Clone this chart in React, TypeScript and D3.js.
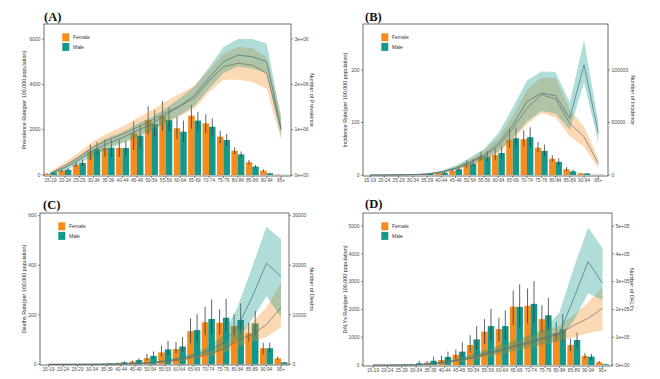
import React from "react";
import * as d3 from "d3";

const ageGroups = ["15-19","20-24","25-29","30-34","35-39","40-44","45-49","50-54","55-59","60-64","65-69","70-74","75-79","80-84","85-89","90-94","95+"];
const sexes = ["Female", "Male"];

// ---------- Panel A: Prevalence ----------
const prevRateF = [50, 190, 460, 1050, 1190, 1200, 1840, 2425, 2600, 2060, 2615, 2280, 1690, 1070, 560, 190, 20];
const prevRateFLo = [30, 130, 350, 660, 810, 800, 1100, 1800, 1950, 1600, 2050, 1850, 1400, 920, 470, 140, 15];
const prevRateFHi = [80, 260, 580, 1350, 1570, 1545, 2380, 3040, 3260, 2570, 3090, 2680, 1950, 1220, 660, 250, 25];
const prevRateM = [110, 230, 530, 1150, 1200, 1190, 1735, 2250, 2425, 1910, 2400, 2130, 1545, 910, 370, 75, 10];
const prevRateMLo = [70, 160, 400, 900, 800, 850, 1200, 1700, 1900, 1450, 1950, 1700, 1280, 780, 300, 55, 8];
const prevRateMHi = [160, 310, 680, 1470, 1570, 1500, 2220, 2870, 2990, 2400, 2790, 2500, 1810, 1040, 440, 95, 12];
const prevNumF = [40000, 210000, 400000, 625000, 775000, 900000, 1050000, 1200000, 1375000, 1525000, 1700000, 2075000, 2390000, 2465000, 2425000, 2240000, 1000000];
const prevNumFLo = [10000, 150000, 310000, 500000, 625000, 725000, 850000, 1000000, 1150000, 1300000, 1475000, 1825000, 2100000, 2100000, 2050000, 1900000, 775000];
const prevNumFHi = [75000, 280000, 500000, 750000, 925000, 1075000, 1250000, 1425000, 1625000, 1800000, 1975000, 2325000, 2675000, 2825000, 2800000, 2600000, 1325000];
const prevNumM = [25000, 160000, 340000, 550000, 700000, 825000, 975000, 1125000, 1325000, 1525000, 1760000, 2140000, 2500000, 2645000, 2610000, 2500000, 1025000];
const prevNumMLo = [5000, 100000, 250000, 425000, 575000, 700000, 825000, 975000, 1150000, 1325000, 1525000, 1900000, 2250000, 2400000, 2350000, 2250000, 850000];
const prevNumMHi = [45000, 210000, 425000, 650000, 825000, 950000, 1125000, 1275000, 1475000, 1700000, 1950000, 2375000, 2825000, 3000000, 3000000, 2900000, 1250000];
const prevLeftTicks = [0, 2000, 4000, 6000];
const prevRightTicks = [0, 1000000, 2000000, 3000000];
const prevRightLabels = ["0e+00", "1e+06", "2e+06", "3e+06"];

// ---------- Panel B: Incidence ----------
const incRateF = [0.1, 0.2, 0.3, 0.6, 1.5, 3.5, 8, 20, 35, 38, 67, 68, 52, 31, 11, 3, 0.5];
const incRateFLo = [0.05, 0.1, 0.2, 0.4, 1, 2.5, 6, 14, 28, 28, 52, 55, 44, 25, 8, 2, 0.3];
const incRateFHi = [0.15, 0.3, 0.45, 0.9, 2.2, 5, 12, 28, 44, 50, 88, 85, 63, 38, 15, 4, 0.8];
const incRateM = [0.1, 0.2, 0.4, 0.8, 2.5, 4.5, 11, 22, 35, 42, 70, 72, 46, 25, 7, 3, 0.5];
const incRateMLo = [0.05, 0.1, 0.25, 0.5, 1.8, 3.2, 8, 17, 27, 32, 54, 55, 36, 19, 5, 2, 0.3];
const incRateMHi = [0.15, 0.3, 0.6, 1.2, 3.5, 6.5, 15, 30, 46, 56, 90, 91, 58, 32, 10, 4, 0.8];
const incNumF = [50, 100, 200, 400, 900, 2500, 6000, 11500, 18000, 27500, 44000, 63500, 76500, 72500, 49000, 36500, 11000];
const incNumFLo = [25, 50, 100, 250, 600, 1750, 4500, 8500, 13500, 20500, 33000, 48000, 59000, 55000, 37000, 27000, 6500];
const incNumFHi = [100, 200, 350, 600, 1300, 3500, 8000, 15000, 23500, 36000, 56000, 81500, 92500, 92500, 62500, 46000, 16000];
const incNumM = [50, 100, 200, 450, 1000, 3000, 6500, 12500, 19000, 30000, 47500, 70000, 78000, 75500, 54000, 105000, 40000];
const incNumMLo = [25, 50, 100, 300, 700, 2250, 5000, 9500, 14500, 22500, 35000, 51000, 61000, 58500, 43000, 88000, 31000];
const incNumMHi = [100, 200, 350, 700, 1400, 4000, 9000, 16500, 25000, 40000, 64000, 90000, 98500, 98000, 69000, 128500, 50000];
const incLeftTicks = [0, 100, 200];
const incRightTicks = [0, 50000, 100000];
const incRightLabels = ["0", "50000", "100000"];

// ---------- Panel C: Deaths ----------
const dthRateF = [0, 0, 0.2, 0.5, 1.5, 4, 11, 25, 48, 62, 134, 170, 168, 155, 125, 65, 24];
const dthRateFLo = [0, 0, 0.1, 0.3, 0.8, 2, 7, 16, 32, 45, 85, 118, 120, 115, 90, 40, 18];
const dthRateFHi = [0, 0, 0.3, 0.8, 2.5, 7, 15, 42, 75, 90, 186, 232, 222, 202, 168, 87, 31];
const dthRateM = [0, 0, 0.3, 1, 3, 8, 17, 34, 60, 72, 138, 183, 188, 179, 165, 65, 8];
const dthRateMLo = [0, 0, 0.2, 0.6, 2, 4, 10, 22, 40, 50, 91, 125, 130, 120, 115, 45, 6];
const dthRateMHi = [0, 0, 0.5, 1.5, 5, 12, 24, 52, 95, 110, 203, 262, 264, 246, 216, 87, 10];
const dthNumF = [0, 5, 10, 20, 40, 75, 150, 250, 500, 850, 1350, 2000, 3000, 4750, 6000, 8000, 11500];
const dthNumFLo = [0, 2.5, 5, 15, 30, 55, 110, 190, 375, 650, 1050, 1550, 2300, 3500, 4500, 5500, 7500];
const dthNumFHi = [0, 7.5, 15, 30, 55, 100, 200, 325, 650, 1100, 1700, 2500, 3800, 6500, 8500, 11500, 16500];
const dthNumM = [0, 5, 15, 30, 60, 125, 200, 350, 650, 1100, 1750, 2750, 4250, 7500, 13500, 20400, 17750];
const dthNumMLo = [0, 2.5, 10, 20, 45, 90, 150, 250, 500, 800, 1300, 2000, 3000, 5000, 9000, 13750, 9500];
const dthNumMHi = [0, 7.5, 20, 40, 80, 160, 275, 450, 850, 1450, 2300, 3600, 5750, 11500, 19500, 27750, 25250];
const dthLeftTicks = [0, 200, 400, 600];
const dthRightTicks = [0, 10000, 20000, 30000];
const dthRightLabels = ["0", "10000", "20000", "30000"];

// ---------- Panel D: DALYs ----------
const dalyRateF = [0, 2, 10, 25, 85, 180, 370, 720, 1200, 1290, 2100, 2130, 1650, 1150, 720, 330, 100];
const dalyRateFLo = [0, 1, 5, 12, 40, 100, 220, 450, 750, 850, 1450, 1500, 1150, 850, 500, 230, 70];
const dalyRateFHi = [0, 3, 15, 40, 130, 330, 560, 1070, 1650, 1700, 2680, 2750, 2150, 1550, 950, 430, 140];
const dalyRateM = [0, 3, 15, 60, 150, 290, 480, 920, 1400, 1400, 2090, 2200, 1790, 1280, 900, 300, 30];
const dalyRateMLo = [0, 1, 6, 20, 80, 160, 300, 560, 860, 900, 1350, 1500, 1250, 850, 600, 200, 20];
const dalyRateMHi = [0, 5, 25, 150, 300, 480, 820, 1400, 2020, 1970, 2900, 3020, 2420, 1830, 1170, 400, 45];
const dalyNumF = [0, 0, 200, 800, 3000, 8000, 16000, 26000, 40000, 53000, 67000, 80000, 95000, 112000, 143000, 168000, 204000];
const dalyNumFLo = [0, 0, 100, 500, 2000, 5500, 11500, 19000, 29000, 39000, 50000, 60000, 72000, 87000, 100000, 115000, 125000];
const dalyNumFHi = [0, 0, 300, 1100, 4200, 11000, 21500, 34500, 52000, 69000, 87000, 104000, 123000, 142000, 180000, 225000, 280000];
const dalyNumM = [0, 0, 300, 1200, 4000, 10000, 19000, 30000, 44000, 57000, 71000, 85000, 100000, 115000, 240000, 371700, 293700];
const dalyNumMLo = [0, 0, 200, 800, 2800, 7200, 14000, 22000, 32000, 42000, 53000, 64000, 76000, 88000, 160000, 258000, 234000];
const dalyNumMHi = [0, 0, 400, 1600, 5500, 13500, 25000, 40000, 58000, 75000, 92000, 110000, 130000, 190000, 350000, 495000, 420000];
const dalyLeftTicks = [0, 1000, 2000, 3000, 4000, 5000];
const dalyRightTicks = [0, 100000, 200000, 300000, 400000, 500000];
const dalyRightLabels = ["0e+00", "1e+05", "2e+05", "3e+05", "4e+05", "5e+05"];

// ---------- styles ----------
const ORANGE = "#F68B1E";
const TEAL = "#13998A";
const LINE_F = "#7d6a5c";
const LINE_M = "#3a7489";
const SANS = "'Liberation Sans', Arial, sans-serif";
const SERIF = "'Liberation Serif', 'Times New Roman', serif";

type Series = { rate: number[]; lo: number[]; hi: number[]; num: number[]; numLo: number[]; numHi: number[] };

type PanelSpec = {
  label: string;
  leftTitle: string;
  rightTitle: string;
  box: { x0: number; x1: number; y0: number; y1: number };
  xRange: [number, number];
  leftDomain: [number, number];
  factor: number;
  leftTicks: number[];
  rightTicks: number[];
  rightLabels: string[];
  titleX: number;
  titleY: number;
  leftTitleX: number;
  rightTitleX: number;
  female: Series;
  male: Series;
};

const panels: PanelSpec[] = [
  {
    label: "(A)", leftTitle: "Prevalence Rate(per 100,000 population)", rightTitle: "Number of Prevalence",
    box: { x0: 44, x1: 291, y0: 24, y1: 176 }, xRange: [50.5, 281.1], leftDomain: [-44, 6662], factor: 500,
    leftTicks: prevLeftTicks, rightTicks: prevRightTicks, rightLabels: prevRightLabels,
    titleX: 44, titleY: 21, leftTitleX: 24, rightTitleX: 312,
    female: { rate: prevRateF, lo: prevRateFLo, hi: prevRateFHi, num: prevNumF, numLo: prevNumFLo, numHi: prevNumFHi },
    male: { rate: prevRateM, lo: prevRateMLo, hi: prevRateMHi, num: prevNumM, numLo: prevNumMLo, numHi: prevNumMHi },
  },
  {
    label: "(B)", leftTitle: "Incidence Rate(per 100,000 population)", rightTitle: "Number of Incidence",
    box: { x0: 363, x1: 608, y0: 24, y1: 176 }, xRange: [370, 598.3], leftDomain: [-1.9, 287.6], factor: 500,
    leftTicks: incLeftTicks, rightTicks: incRightTicks, rightLabels: incRightLabels,
    titleX: 365, titleY: 20.5, leftTitleX: 345, rightTitleX: 633,
    female: { rate: incRateF, lo: incRateFLo, hi: incRateFHi, num: incNumF, numLo: incNumFLo, numHi: incNumFHi },
    male: { rate: incRateM, lo: incRateMLo, hi: incRateMHi, num: incNumM, numLo: incNumMLo, numHi: incNumMHi },
  },
  {
    label: "(C)", leftTitle: "Deaths Rate(per 100,000 population)", rightTitle: "Number of Deaths",
    box: { x0: 40, x1: 289, y0: 213, y1: 365 }, xRange: [48.5, 281], leftDomain: [-2.8, 610.9], factor: 50,
    leftTicks: dthLeftTicks, rightTicks: dthRightTicks, rightLabels: dthRightLabels,
    titleX: 43, titleY: 209, leftTitleX: 24, rightTitleX: 312,
    female: { rate: dthRateF, lo: dthRateFLo, hi: dthRateFHi, num: dthNumF, numLo: dthNumFLo, numHi: dthNumFHi },
    male: { rate: dthRateM, lo: dthRateMLo, hi: dthRateMHi, num: dthNumM, numLo: dthNumMLo, numHi: dthNumMHi },
  },
  {
    label: "(D)", leftTitle: "DALYs Rate(per 100,000 population)", rightTitle: "Number of DALYs",
    box: { x0: 363, x1: 612, y0: 213, y1: 366 }, xRange: [373, 602.5], leftDomain: [-36, 5468], factor: 100,
    leftTicks: dalyLeftTicks, rightTicks: dalyRightTicks, rightLabels: dalyRightLabels,
    titleX: 365, titleY: 208, leftTitleX: 345, rightTitleX: 632,
    female: { rate: dalyRateF, lo: dalyRateFLo, hi: dalyRateFHi, num: dalyNumF, numLo: dalyNumFLo, numHi: dalyNumFHi },
    male: { rate: dalyRateM, lo: dalyRateMLo, hi: dalyRateMHi, num: dalyNumM, numLo: dalyNumMLo, numHi: dalyNumMHi },
  },
];

function Panel({ p }: { p: PanelSpec }) {
  const { box } = p;
  const x = d3.scalePoint<string>().domain(ageGroups).range(p.xRange);
  const step = x.step();
  const bw = step * 0.45;
  const yL = d3.scaleLinear().domain(p.leftDomain).range([box.y1, box.y0]);
  const yR = d3.scaleLinear().domain([p.leftDomain[0] * p.factor, p.leftDomain[1] * p.factor]).range([box.y1, box.y0]);
  const idx = ageGroups.map((_, i) => i);
  const xi = (i: number) => x(ageGroups[i]) as number;
  const series = [
    { s: p.female, color: ORANGE, line: LINE_F, off: -bw },
    { s: p.male, color: TEAL, line: LINE_M, off: 0 },
  ];
  const midY = (box.y0 + box.y1) / 2;
  const tickColor = "#444";
  return (
    <g>
      {/* bars */}
      {series.map((se, k) => (
        <g key={"b" + k}>
          {idx.map((i) => {
            const v = se.s.rate[i];
            const y0 = yL(0);
            const y1 = yL(v);
            return <rect key={i} x={xi(i) + se.off} y={y1} width={bw} height={Math.max(0, y0 - y1)} fill={se.color} />;
          })}
        </g>
      ))}
      {/* error bars */}
      {series.map((se, k) => (
        <g key={"e" + k}>
          {idx.map((i) =>
            se.s.hi[i] - se.s.lo[i] > 0 ? (
              <line key={i} x1={xi(i) + se.off + bw / 2} x2={xi(i) + se.off + bw / 2} y1={yL(se.s.lo[i])} y2={yL(se.s.hi[i])} stroke="#3a3a3a" strokeWidth={0.8} />
            ) : null
          )}
        </g>
      ))}
      {/* ribbons */}
      {series.map((se, k) => {
        const area = d3.area<number>().x((i) => xi(i)).y0((i) => yR(se.s.numLo[i])).y1((i) => yR(se.s.numHi[i]));
        return <path key={"r" + k} d={area(idx) || ""} fill={se.color} fillOpacity={0.33} stroke="none" />;
      })}
      {/* lines */}
      {series.map((se, k) => {
        const line = d3.line<number>().x((i) => xi(i)).y((i) => yR(se.s.num[i]));
        return <path key={"l" + k} d={line(idx) || ""} fill="none" stroke={se.line} strokeWidth={0.7} />;
      })}
      {/* frame */}
      <rect x={box.x0} y={box.y0} width={box.x1 - box.x0} height={box.y1 - box.y0} fill="none" stroke="#333" strokeWidth={0.7} />
      {/* left axis */}
      {p.leftTicks.map((t) => (
        <g key={"lt" + t}>
          <line x1={box.x0 - 2} x2={box.x0} y1={yL(t)} y2={yL(t)} stroke={tickColor} strokeWidth={0.6} />
          <text x={box.x0 - 3.5} y={yL(t)} dy="0.35em" textAnchor="end" fontSize={5} fill="#4d4d4d" fontFamily={SANS}>{t}</text>
        </g>
      ))}
      {/* right axis */}
      {p.rightTicks.map((t, j) => (
        <g key={"rt" + t}>
          <line x1={box.x1} x2={box.x1 + 2} y1={yR(t)} y2={yR(t)} stroke={tickColor} strokeWidth={0.6} />
          <text x={box.x1 + 3.5} y={yR(t)} dy="0.35em" textAnchor="start" fontSize={5} fill="#4d4d4d" fontFamily={SANS}>{p.rightLabels[j]}</text>
        </g>
      ))}
      {/* x axis */}
      {ageGroups.map((a) => (
        <g key={"xt" + a}>
          <line x1={x(a)} x2={x(a)} y1={box.y1} y2={box.y1 + 2} stroke={tickColor} strokeWidth={0.6} />
          <text x={x(a)} y={box.y1 + 6.3} textAnchor="middle" fontSize={4.7} fill="#4d4d4d" fontFamily={SANS}>{a}</text>
        </g>
      ))}
      {/* axis titles */}
      <text transform={`translate(${p.leftTitleX},${midY}) rotate(-90)`} textAnchor="middle" dy="0.35em" fontSize={5.4} fill="#333" fontFamily={SANS}>{p.leftTitle}</text>
      <text transform={`translate(${p.rightTitleX},${midY}) rotate(90)`} textAnchor="middle" dy="0.35em" fontSize={5.4} fill="#333" fontFamily={SANS}>{p.rightTitle}</text>
      {/* panel label */}
      <text x={p.titleX} y={p.titleY} fontSize={12.5} fontWeight="bold" fill="#111" fontFamily={SERIF}>{p.label}</text>
      {/* legend */}
      {sexes.map((s, k) => (
        <g key={"lg" + s}>
          <rect x={box.x0 + 18.3} y={box.y0 + 9.3 + k * 9.6} width={7} height={8} fill={k === 0 ? ORANGE : TEAL} />
          <text x={box.x0 + 29} y={box.y0 + 13.3 + k * 9.6} dy="0.35em" fontSize={5} fill="#333" fontFamily={SANS}>{s}</text>
        </g>
      ))}
    </g>
  );
}

export default function App() {
  return (
    <svg width={660} height={379} style={{ position: "absolute", left: 0, top: 0, background: "#fff" }}>
      <rect x={0} y={0} width={660} height={379} fill="#fff" />
      {panels.map((p) => (
        <Panel key={p.label} p={p} />
      ))}
    </svg>
  );
}
